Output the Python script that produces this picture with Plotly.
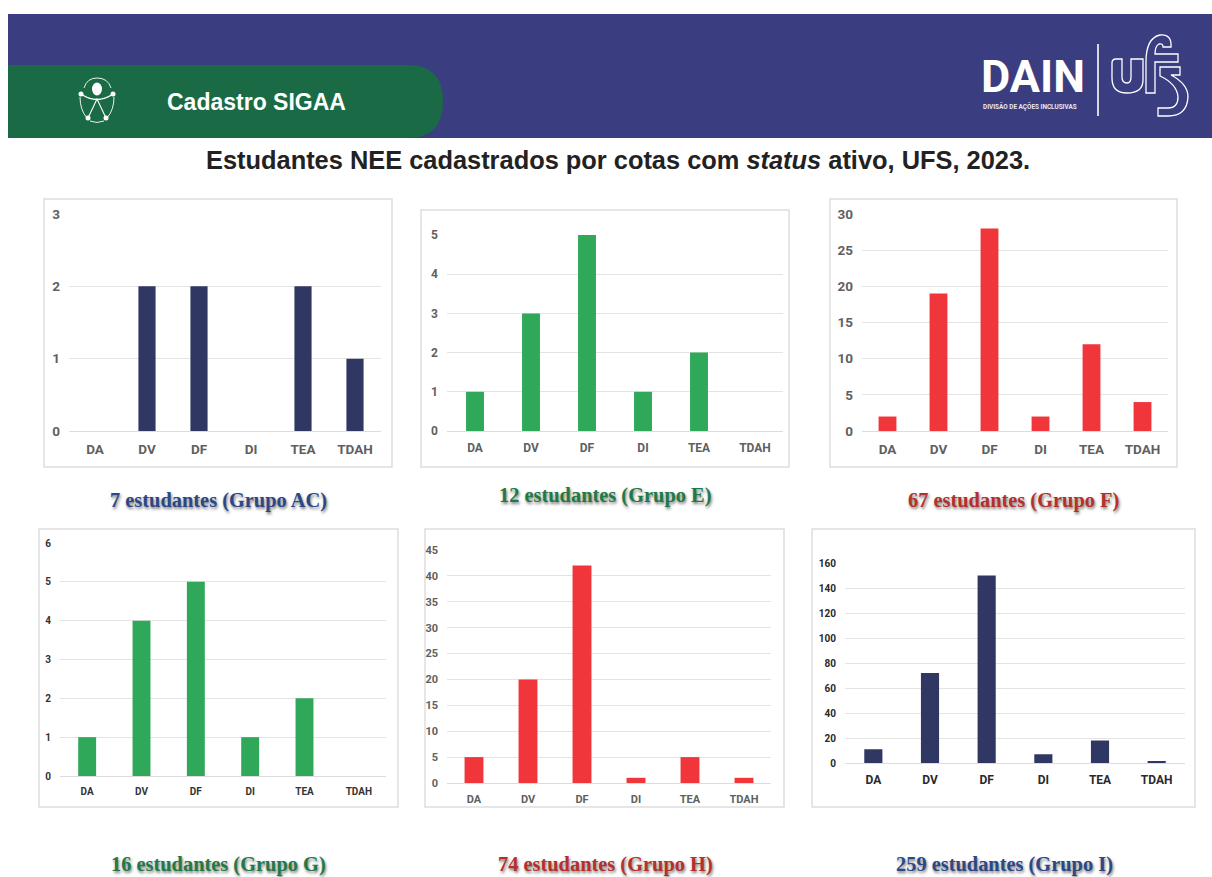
import plotly.graph_objects as go

W, H = 1212, 877
categories = ["DA", "DV", "DF", "DI", "TEA", "TDAH"]

values_ac = [0, 2, 2, 0, 2, 1]
values_e = [1, 3, 5, 1, 2, 0]
values_f = [2, 19, 28, 2, 12, 4]
values_g = [1, 4, 5, 1, 2, 0]
values_h = [5, 20, 42, 1, 5, 1]
values_i = [11, 72, 150, 7, 18, 1]

NAVY, GREEN, RED = "#2F3762", "#2FA85A", "#F0363A"
panels = [
    dict(v=values_ac, c=NAVY, frame=(44, 199, 392, 467), plot=(69, 381, 214, 431), rng=3, dt=1, fs=13.5, tc="#5f5f5f", yfs=13.5, bw=0.33,
         cap="7 estudantes (Grupo AC)", capc="#2C4788", capx=218, capy=500),
    dict(v=values_e, c=GREEN, frame=(421, 210, 789, 467), plot=(447, 783, 235, 431), rng=5, dt=1, fs=12, tc="#5f5f5f", yfs=12, bw=0.32,
         cap="12 estudantes (Grupo E)", capc="#1F7A45", capx=605, capy=495),
    dict(v=values_f, c=RED, frame=(830, 199, 1177, 467), plot=(862, 1168, 214, 431), rng=30, dt=5, fs=13.5, tc="#5f5f5f", yfs=13.5, bw=0.35,
         cap="67 estudantes (Grupo F)", capc="#B5302C", capx=1013, capy=500),
    dict(v=values_g, c=GREEN, frame=(39, 529, 398, 807), plot=(60, 386, 543, 776), rng=6, dt=1, fs=10, tc="#333333", yfs=10, bw=0.33,
         cap="16 estudantes (Grupo G)", capc="#1F7A45", capx=218, capy=864),
    dict(v=values_h, c=RED, frame=(425, 529, 784, 807), plot=(447, 771, 550, 783), rng=45, dt=5, fs=11, tc="#5f5f5f", yfs=11, bw=0.35,
         cap="74 estudantes (Grupo H)", capc="#B5302C", capx=605, capy=864),
    dict(v=values_i, c=NAVY, frame=(812, 529, 1195, 807), plot=(845, 1185, 563, 763), rng=160, dt=20, fs=12, tc="#2a2a2a", yfs=10, bw=0.32,
         cap="259 estudantes (Grupo I)", capc="#2C4788", capx=1004, capy=864),
]

def px(x):
    return x / W

def py(y):
    return 1 - y / H

def rect(x0, y0, x1, y1, fill=None, line=None, lw=1.5, layer="below"):
    return dict(type="rect", xref="paper", yref="paper", x0=px(x0), x1=px(x1), y0=py(y0), y1=py(y1),
                fillcolor=fill or "rgba(0,0,0,0)", line=dict(color=line or "rgba(0,0,0,0)", width=lw if line else 0), layer=layer)

def path(d, fill=None, line="white", lw=1.2, layer="above"):
    s = ""
    for seg in d:
        if seg == "Z":
            s += " Z"
        else:
            cmd, pts = seg[0], seg[1:]
            s += " " + cmd + " ".join(f"{px(pts[i]):.5f},{py(pts[i+1]):.5f}" for i in range(0, len(pts), 2))
    return dict(type="path", xref="paper", yref="paper", path=s.strip(), fillcolor=fill or "rgba(0,0,0,0)",
                line=dict(color=line, width=lw), layer=layer)

def circle(cx, cy, rx, ry=None, fill="white", line="rgba(0,0,0,0)", lw=0):
    ry = ry or rx
    return dict(type="circle", xref="paper", yref="paper", x0=px(cx - rx), x1=px(cx + rx), y0=py(cy + ry), y1=py(cy - ry),
                fillcolor=fill, line=dict(color=line, width=lw), layer="above")

fig = go.Figure()
shapes, annos = [], []

# header
shapes.append(rect(8, 14, 1212, 138, fill="#3A3D80"))
shapes.append(path([("M", 8, 65), ("L", 408, 65), ("Q", 443, 65, 443, 101), ("Q", 443, 138, 408, 138), ("L", 8, 138), "Z"],
                   fill="#1A6B45", line="#1A6B45", lw=0, layer="below"))

# accessibility icon
shapes += [
    circle(97, 89, 5, 6.5),
    circle(81, 94, 2.5), circle(113, 94, 2.5), circle(88, 118, 2.5), circle(106, 118, 2.5),
    path([("M", 81, 94), ("Q", 97, 105, 113, 94)], lw=1.3),
    path([("M", 88, 118), ("L", 97, 99), ("L", 106, 118)], lw=1.1),
    path([("M", 84, 88), ("Q", 87, 78, 97, 78), ("Q", 108, 78, 111, 88)], lw=0.9),
    path([("M", 80, 97), ("Q", 80, 110, 87, 118)], lw=0.9),
    path([("M", 114, 97), ("Q", 114, 110, 107, 118)], lw=0.9),
    path([("M", 90, 121), ("Q", 97, 124, 104, 121)], lw=0.9),
]

# logo
shapes.append(path([("M", 1098, 44), ("L", 1098, 116)], lw=1.6))
shapes.append(path([
    ("M", 1112, 63), ("Q", 1112, 59, 1116, 59), ("L", 1122, 59), ("L", 1122, 77), ("Q", 1122, 83, 1127, 83), ("Q", 1131, 83, 1131, 77), ("L", 1131, 59),
    ("L", 1143, 59), ("L", 1143, 80), ("Q", 1143, 93, 1127, 93), ("Q", 1112, 93, 1112, 78), "Z"], lw=1.3))
shapes.append(path([
    ("M", 1146, 93), ("L", 1146, 62), ("Q", 1146, 38, 1160, 35), ("Q", 1172, 34, 1171, 47),
    ("L", 1163, 47), ("Q", 1163, 43, 1159, 44), ("Q", 1155, 46, 1155, 54), ("L", 1178, 54), ("L", 1178, 62), ("L", 1155, 62), ("L", 1155, 93), "Z"], lw=1.3))
shapes.append(path([
    ("M", 1160, 67), ("L", 1180, 67), ("L", 1180, 75), ("L", 1171, 75), ("Q", 1188, 84, 1188, 97), ("Q", 1187, 116, 1168, 116), ("L", 1158, 116),
    ("L", 1158, 108), ("L", 1168, 108), ("Q", 1178, 108, 1178, 97), ("Q", 1177, 84, 1160, 76), "Z"], lw=1.3))

def text(x, y, s, size, color, family, xanchor="center", weight=None, shadow=None):
    f = dict(size=size, color=color, family=family)
    if weight:
        f["weight"] = weight
    if shadow:
        f["shadow"] = shadow
    annos.append(dict(x=px(x), y=py(y), xref="paper", yref="paper", text=s, showarrow=False, font=f,
                      xanchor=xanchor, yanchor="middle", borderpad=0, borderwidth=0))

text(167, 102, "Cadastro SIGAA", 23, "white", "Liberation Sans", xanchor="left", weight=700)
text(618, 160, "Estudantes NEE cadastrados por cotas com <i>status</i> ativo, UFS, 2023.", 25.4, "#222222", "Liberation Sans", weight=700)
text(981, 77, "DAIN", 45, "white", "Roboto", xanchor="left", weight=700)
text(983, 106, "DIVISÃO DE AÇÕES INCLUSIVAS", 6.4, "#E8E8F2", "Roboto", xanchor="left", weight=700)

for n, p in enumerate(panels, start=1):
    shapes.append(rect(*p["frame"], fill="white", line="#DEDEDE", lw=1.5))
    suffix = "" if n == 1 else str(n)
    l, r, t, b = p["plot"]
    fig.add_bar(x=categories, y=p["v"], marker=dict(color=p["c"], line=dict(width=0)), width=p["bw"],
                xaxis="x" + suffix, yaxis="y" + suffix, showlegend=False, hoverinfo="x+y")
    fig.update_layout({
        "xaxis" + suffix: dict(domain=[px(l), px(r)], anchor="y" + suffix, type="category", categoryorder="array",
                               categoryarray=categories, showgrid=False, showline=True, linecolor="#DCDCDC", linewidth=1,
                               ticks="", fixedrange=True, ticklabelstandoff=6,
                               tickfont=dict(size=p["fs"], color=p["tc"], family="Roboto", weight=700)),
        "yaxis" + suffix: dict(domain=[py(b), py(t)], anchor="x" + suffix, range=[0, p["rng"]], dtick=p["dt"], tick0=0,
                               showgrid=True, gridcolor="#E4E4E4", gridwidth=1, zeroline=False, showline=False, ticks="",
                               fixedrange=True, ticklabelstandoff=8,
                               tickfont=dict(size=p["yfs"], color=p["tc"], family="Roboto", weight=700)),
    })
    text(p["capx"], p["capy"], p["cap"], 20.4, p["capc"], "Liberation Serif", weight=700, shadow="1px 2px 3px #777777")

fig.update_layout(width=W, height=H, margin=dict(l=0, r=0, t=0, b=0, pad=0, autoexpand=False), paper_bgcolor="white", plot_bgcolor="rgba(0,0,0,0)",
                  shapes=shapes, annotations=annos, bargap=0.65, showlegend=False)
fig.write_html("out.html", config=dict(displayModeBar=False), post_script="document.body.style.margin='0';document.body.style.overflow='hidden';")
